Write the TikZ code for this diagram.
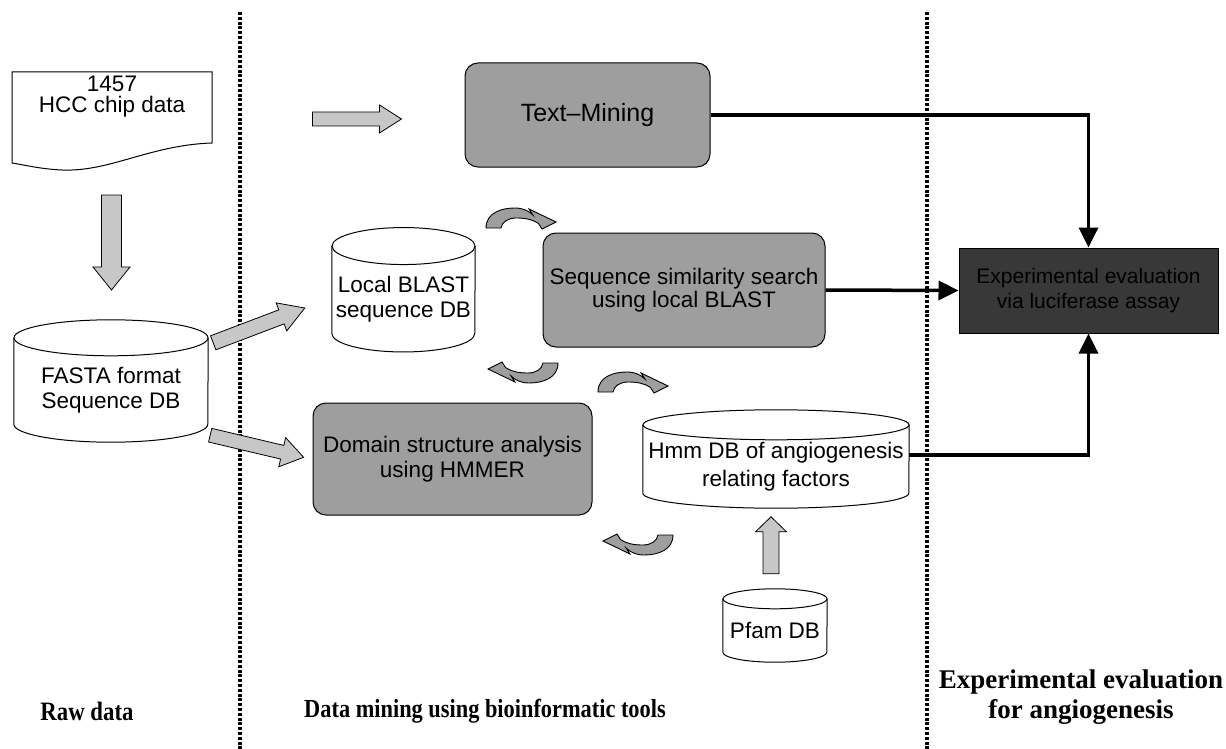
\documentclass[tikz,border=0pt]{standalone}
\usepackage{fontspec}
\setmainfont{Liberation Serif}
\setsansfont{Liberation Sans}
\newfontfamily\condserif[FakeStretch=0.86]{Liberation Serif}
\usetikzlibrary{arrows.meta,calc}

\newcommand{\drawcyl}[3]{% name, half width, ry
  \draw[cylline] (#1.north west) -- ([yshift=#3pt]#1.south west)
     arc[start angle=180,end angle=360,x radius=#2pt,y radius=#3pt] -- (#1.north east);
  \draw[cylline] (#1.north) ellipse[x radius=#2pt, y radius=#3pt];
}
\newcommand{\fatarrow}[4]{% L s h H
  \filldraw[fatfill] (0,-#2) -- ({#1-#4},-#2) -- ({#1-#4},-#3) -- (#1,0) -- ({#1-#4},#3) -- ({#1-#4},#2) -- (0,#2) -- cycle;
}
\newcommand{\curvarrow}{%
  \filldraw[curvfill] (0,20) .. controls (0,5) and (15,0) .. (29,0) .. controls (37,0) and (43,3) .. (46.9,7)
    -- (43,1) -- (70,14) -- (56,21) -- (52.4,15.4) .. controls (46,11) and (38,10) .. (30,10)
    .. controls (22,10) and (16,14) .. (15,20) -- cycle;
}

\tikzset{
  sfont/.style={font=\sffamily\fontsize{22.5}{#1}\selectfont},
  gbox/.style={draw, line width=1pt, rounded corners=13pt, fill=black!38, inner sep=0pt, align=center},
  dbnode/.style={inner sep=0pt, align=center},
  cylline/.style={line width=1pt},
  conn/.style={line width=3.5pt, -{Triangle[length=20pt,width=19pt]}},
  fatfill/.style={draw, line width=0.8pt, fill=black!22},
  curvfill/.style={draw, line width=0.9pt, fill=black!38},
  dotline/.style={line width=3.5pt, dash pattern=on 3pt off 1.8pt},
  collabel/.style={font=\bfseries\fontsize{#1}{30}\selectfont, align=center},
  condlabel/.style={font=\condserif\bfseries\fontsize{#1}{30}\selectfont, align=center}
}

\begin{document}
\begin{tikzpicture}[x=1pt,y=-1pt]
\useasboundingbox (0,0) rectangle (1226,749);
\fill[white] (0,0) rectangle (1226,749);

% column dividers
\draw[dotline] (240,12) -- (240,749);
\draw[dotline] (927,12) -- (927,749);

% raw data document
\draw[line width=1pt] (12,72) -- (212,72) -- (212,143)
   .. controls (150,145) and (110,172) .. (62,170)
   .. controls (40,169) and (25,165) .. (12,163) -- cycle;
\node[dbnode, sfont=21] (hcc) at (112,97) {1457\\HCC chip data};

% cylinders
\node[dbnode, sfont=25, minimum width=194pt, minimum height=104pt] (fasta) at (111,390) {FASTA format\\Sequence DB};
\drawcyl{fasta}{97}{18}
\node[dbnode, sfont=25, minimum width=143pt, minimum height=105.5pt] (blast) at (403.5,299) {Local BLAST\\sequence DB};
\drawcyl{blast}{71.5}{18.5}
\node[dbnode, sfont=28, minimum width=266pt, minimum height=83pt] (hmm) at (776,466.5) {Hmm DB of angiogenesis\\relating factors};
\drawcyl{hmm}{133}{15}
\node[dbnode, sfont=25, minimum width=104pt, minimum height=63pt] (pfam) at (775,630.5) {Pfam DB};
\drawcyl{pfam}{52}{10}

% process boxes
\node[gbox, font=\sffamily\fontsize{25}{28}\selectfont, minimum width=245pt, minimum height=104pt] (tm) at (587.5,115) {Text--Mining};
\node[gbox, sfont=23, minimum width=282pt, minimum height=114pt] (seq) at (684,290) {Sequence similarity search\\using local BLAST};
\node[gbox, sfont=25, minimum width=279pt, minimum height=112pt] (dom) at (452.5,459) {Domain structure analysis\\using HMMER};
\node[draw, line width=1pt, fill=black!78, text=black, inner sep=0pt, align=center, font=\sffamily\fontsize{21}{25}\selectfont,
      minimum width=259pt, minimum height=85pt] (dark) at (1088.5,290.5) {Experimental evaluation\\via luciferase assay};

% connectors
\draw[conn] (tm.east) -| (dark.north);
\draw[conn] (seq.east) -- (dark.west);
\draw[conn] ([yshift=11.5pt]hmm.east) -| (dark.south);

% block arrows
\begin{scope}[shift={($(hcc.center)+(-0.5,98)$)}, rotate=-90]
  \fatarrow{95}{10}{18.5}{23}
\end{scope}
\begin{scope}[shift={($(fasta.north east)+(5,5)$)}, rotate=20.8]
  \fatarrow{98}{7.5}{15}{25}
\end{scope}
\begin{scope}[shift={($(fasta.south east)+(2,-7)$)}, rotate=-13.3]
  \fatarrow{96}{7}{15}{22}
\end{scope}
\begin{scope}[shift={($(tm.west)+(-152,4)$)}]
  \fatarrow{89}{7}{14}{22}
\end{scope}
\begin{scope}[shift={($(pfam.north)+(-4,-25)$)}, rotate=90]
  \fatarrow{57}{8}{15.5}{15}
\end{scope}

% curved arrows
\begin{scope}[shift={(486,208)}]\curvarrow\end{scope}
\begin{scope}[shift={(558,383)}, rotate=180]\curvarrow\end{scope}
\begin{scope}[shift={(598,372)}]\curvarrow\end{scope}
\begin{scope}[shift={(673,555)}, rotate=180]\curvarrow\end{scope}

% column labels
\node[condlabel=26.5] (lraw) at (87,711) {Raw data};
\node[condlabel=26] (lmine) at (485,711) {Data mining using bioinformatic tools};
\node[collabel=27] (lexp) at (1081,697) {Experimental evaluation\\for angiogenesis};
\end{tikzpicture}
\end{document}
